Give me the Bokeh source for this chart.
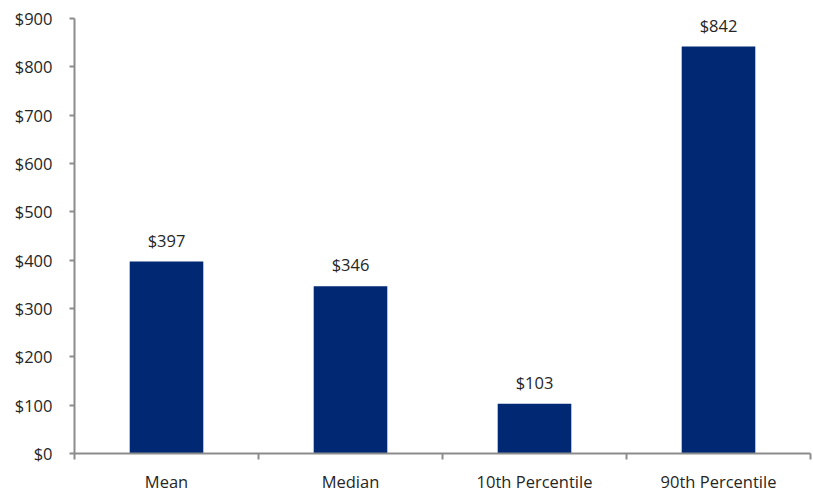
from bokeh.plotting import figure
from bokeh.models import ColumnDataSource, FixedTicker, Range1d, LabelSet
from bokeh.core.properties import value
from bokeh.embed import file_html
from bokeh.resources import INLINE

categories = ["Mean", "Median", "10th Percentile", "90th Percentile"]
values = [397, 346, 103, 842]
value_labels = ["$397", "$346", "$103", "$842"]
y_ticks = [0, 100, 200, 300, 400, 500, 600, 700, 800, 900]
y_tick_labels = ["$" + str(t) for t in y_ticks]

positions = [i + 0.5 for i in range(len(categories))]
boundaries = [i for i in range(len(categories) + 1)]

src = ColumnDataSource(dict(x=positions, top=values, label=value_labels))

FONT = "Open Sans"
FS = "16.5px"
TXT = "#262626"
AX = "#8c8c8c"

p = figure(width=813, height=495, output_backend="svg", toolbar_location=None,
           x_range=Range1d(0, 4), y_range=Range1d(0, 900),
           min_border_left=74, min_border_right=3, min_border_top=18, min_border_bottom=40)
p.outline_line_color = None
p.grid.grid_line_color = None

p.vbar(x="x", top="top", width=0.4, bottom=0, source=src, fill_color="#002873", line_color=None)

labels = LabelSet(x="x", y="top", text="label", source=src, text_align="center",
                  text_baseline="bottom", y_offset=10, text_font=value(FONT),
                  text_font_size=FS, text_color=TXT)
p.add_layout(labels)

xa = p.xaxis[0]
xa.ticker = FixedTicker(ticks=positions, minor_ticks=boundaries)
xa.major_label_overrides = {pos: c for pos, c in zip(positions, categories)}
xa.major_tick_out = 0
xa.major_tick_in = 0
xa.minor_tick_out = 6
xa.minor_tick_in = 0
xa.minor_tick_line_color = AX
xa.minor_tick_line_width = 2
xa.axis_line_color = AX
xa.axis_line_width = 2
xa.major_label_standoff = 10
xa.major_label_text_font = FONT
xa.major_label_text_font_size = FS
xa.major_label_text_color = TXT

ya = p.yaxis[0]
ya.ticker = FixedTicker(ticks=y_ticks)
ya.major_label_overrides = {t: l for t, l in zip(y_ticks, y_tick_labels)}
ya.minor_tick_line_color = None
ya.major_tick_out = 5
ya.major_tick_in = 0
ya.major_tick_line_color = AX
ya.major_tick_line_width = 2
ya.axis_line_color = AX
ya.axis_line_width = 2
ya.major_label_standoff = 17
ya.major_label_text_font = FONT
ya.major_label_text_font_size = FS
ya.major_label_text_color = TXT

open("out.html", "w").write(file_html(p, INLINE))
